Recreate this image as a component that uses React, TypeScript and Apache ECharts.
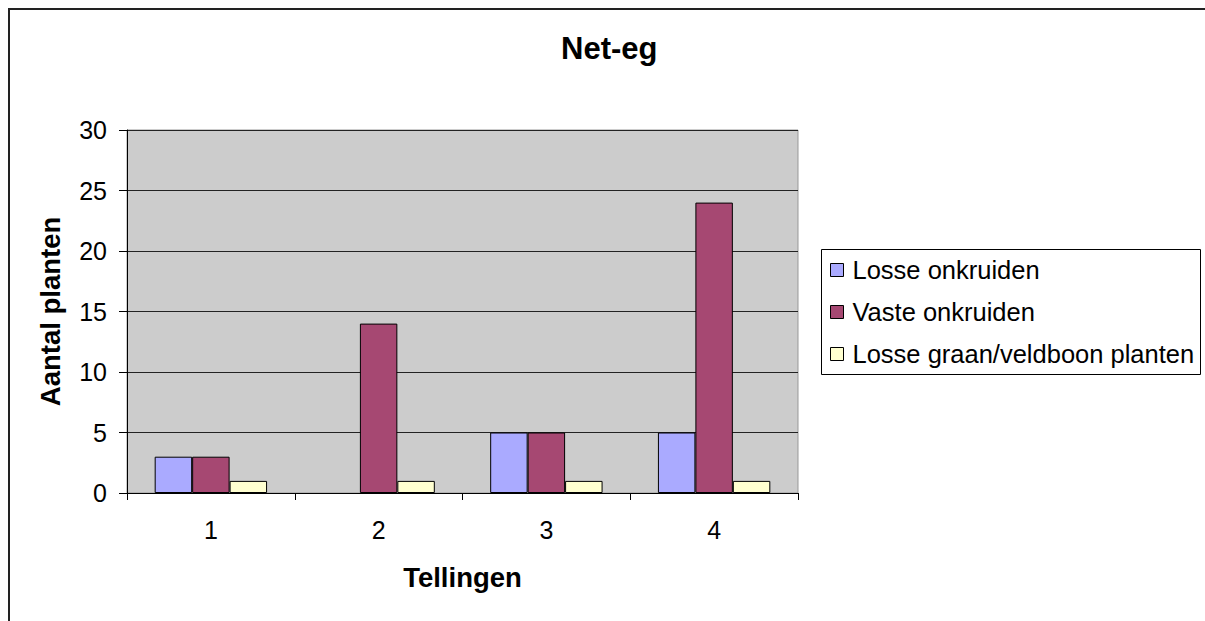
import React, { useEffect, useRef } from "react";
import * as echarts from "echarts";

const categories = ["1", "2", "3", "4"];
const losseOnkruiden = [3, 0, 5, 5];
const vasteOnkruiden = [3, 14, 5, 24];
const losseGraan = [1, 1, 1, 1];
const seriesNames = ["Losse onkruiden", "Vaste onkruiden", "Losse graan/veldboon planten"];
const colors = ["#AAAAFF", "#A64872", "#FFFFD0"];

const W = 1205;
const H = 621;

export default function App() {
  const ref = useRef<HTMLDivElement>(null);
  useEffect(() => {
    if (!ref.current) return;
    document.documentElement.style.overflow = "hidden";
    document.body.style.overflow = "hidden";
    document.body.style.margin = "0";
    const chart = echarts.init(ref.current, undefined, { renderer: "svg" });
    const font = "Liberation Sans, Arial, sans-serif";
    const mk = (name: string, data: number[], color: string) => ({
      name,
      type: "bar",
      data: data.map((v) => (v === 0 ? { value: v, itemStyle: { borderWidth: 0 } } : v)),
      barGap: "0%",
      barCategoryGap: "33%",
      itemStyle: { color, borderColor: "#000", borderWidth: 1 },
    });
    chart.setOption({
      animation: false,
      textStyle: { fontFamily: font },
      title: {
        text: "Net-eg",
        left: 556,
        top: 28,
        textStyle: { fontSize: 31, fontWeight: "bold", color: "#000", fontFamily: font },
      },
      graphic: [
        {
          type: "rect",
          shape: { x: 9, y: 9, width: 1400, height: 800 },
          style: { fill: "none", stroke: "#222", lineWidth: 2 },
          silent: true,
          z: 0,
        },
        {
          type: "rect",
          shape: { x: 821.5, y: 249.5, width: 379, height: 125 },
          style: { fill: "#fff", stroke: "#000", lineWidth: 1 },
          silent: true,
          z: 1,
        },
      ],
      legend: {
        orient: "vertical",
        left: 830,
        top: 256,
        padding: 0,
        itemWidth: 13,
        itemHeight: 13,
        itemGap: 14,
        icon: "rect",
        z: 5,
        itemStyle: { borderColor: "#000", borderWidth: 1 },
        textStyle: { fontSize: 25.5, color: "#000", fontFamily: font, lineHeight: 28, padding: [0, 0, 0, 4] },
        data: seriesNames,
      },
      grid: {
        left: 127,
        top: 130,
        width: 671,
        height: 363,
        show: true,
        backgroundColor: "#CCCCCC",
        borderColor: "#999",
        borderWidth: 1,
      },
      xAxis: {
        type: "category",
        data: categories,
        name: "Tellingen",
        nameLocation: "middle",
        nameGap: 70,
        nameTextStyle: { fontSize: 27.5, fontWeight: "bold", color: "#000", fontFamily: font },
        axisLine: { lineStyle: { color: "#000", width: 1 } },
        axisTick: { show: true, length: 7, lineStyle: { color: "#000" } },
        axisLabel: { fontSize: 25, color: "#000", margin: 24, fontFamily: font },
      },
      yAxis: {
        type: "value",
        min: 0,
        max: 30,
        interval: 5,
        name: "Aantal planten",
        nameLocation: "middle",
        nameGap: 63,
        nameTextStyle: { fontSize: 27.5, fontWeight: "bold", color: "#000", fontFamily: font },
        axisLine: { show: true, lineStyle: { color: "#000", width: 1 } },
        axisTick: { show: true, length: 8, lineStyle: { color: "#000" } },
        axisLabel: { fontSize: 25, color: "#000", margin: 20, fontFamily: font },
        splitLine: { show: true, lineStyle: { color: "#222", width: 1 } },
      },
      series: [
        mk(seriesNames[0], losseOnkruiden, colors[0]),
        mk(seriesNames[1], vasteOnkruiden, colors[1]),
        mk(seriesNames[2], losseGraan, colors[2]),
      ],
    });
    return () => chart.dispose();
  }, []);
  return <div ref={ref} style={{ width: W, height: H }} />;
}
